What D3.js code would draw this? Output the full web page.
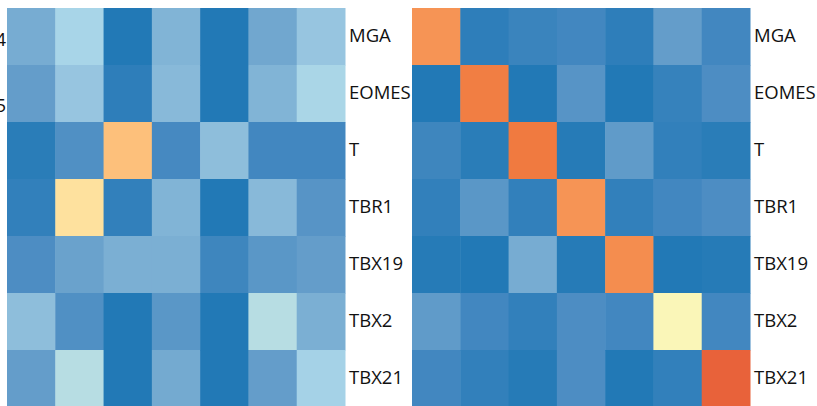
<!DOCTYPE html>
<html>
<head>
<meta charset="utf-8">
<script src="https://cdn.jsdelivr.net/npm/d3@7"></script>
<style>
  body { margin: 0; background: #fff; }
  text { font-family: "Open Sans", "Noto Sans", sans-serif; fill: #111; }
</style>
</head>
<body>
<div id="wrapper"></div>
<script>
// Data
const genes = ["MGA", "EOMES", "T", "TBR1", "TBX19", "TBX2", "TBX21"]
const leftValues = [
    [0.24, 0.40, 0.00, 0.27, 0.00, 0.22, 0.34],
    [0.18, 0.34, 0.03, 0.29, 0.00, 0.27, 0.41],
    [0.02, 0.12, 0.78, 0.09, 0.31, 0.08, 0.08],
    [0.04, 0.70, 0.04, 0.27, 0.00, 0.29, 0.14],
    [0.11, 0.20, 0.25, 0.25, 0.07, 0.15, 0.18],
    [0.31, 0.12, 0.00, 0.15, 0.00, 0.47, 0.25],
    [0.18, 0.47, 0.00, 0.23, 0.00, 0.18, 0.39],
]
const rightValues = [
    [0.88, 0.03, 0.06, 0.08, 0.03, 0.18, 0.08],
    [0.00, 0.94, 0.00, 0.14, 0.00, 0.05, 0.11],
    [0.07, 0.02, 0.95, 0.01, 0.17, 0.04, 0.02],
    [0.04, 0.15, 0.04, 0.88, 0.04, 0.08, 0.11],
    [0.01, 0.00, 0.24, 0.01, 0.90, 0.00, 0.01],
    [0.17, 0.08, 0.04, 0.11, 0.08, 0.60, 0.08],
    [0.08, 0.04, 0.01, 0.11, 0.00, 0.04, 1.00],
]
// clipped labels of a panel further left (cut off in the original too)
const clippedLabels = ["4", "5"]
const clippedY = [40, 106]

// Dimensions
const width = 817
const height = 406
const panelWidth = 338
const cellHeight = 57
const panels = [
    { x: 7, values: leftValues },
    { x: 412, values: rightValues },
]

const color = d3.scaleLinear()
    .domain([0, 0.1, 0.2, 0.3, 0.4, 0.5, 0.6, 0.7, 0.78, 0.88, 0.95, 1])
    .range(["#2279b6", "#4a8bc2", "#6aa2cc", "#8bbbda", "#a8d5e8", "#bde0e1",
             "#faf6b8", "#fee19e", "#fdc07b", "#f69455", "#f07a40", "#e8623a"])
    .clamp(true)

const svg = d3.select("#wrapper")
    .append("svg")
        .attr("width", width)
        .attr("height", height)

const x = d3.scaleBand()
    .domain(d3.range(genes.length))
    .range([0, panelWidth])

const y = d3.scaleBand()
    .domain(genes)
    .range([8, 8 + cellHeight * genes.length])

panels.forEach(p => {
    const g = svg.append("g")
        .attr("transform", `translate(${p.x},0)`)

    const cells = p.values.flatMap((row, i) =>
        row.map((v, j) => ({ row: genes[i], col: j, value: v })))

    g.selectAll("rect")
        .data(cells)
        .join("rect")
            .attr("x", d => x(d.col))
            .attr("y", d => y(d.row))
            .attr("width", x.bandwidth() + 0.5)
            .attr("height", y.bandwidth() + 0.5)
            .attr("fill", d => color(d.value))

    // row labels on the right
    g.append("g")
        .attr("transform", `translate(${panelWidth},0)`)
        .call(d3.axisRight(y).tickSize(0).tickPadding(4))
        .call(a => a.select(".domain").remove())
        .selectAll("text")
            .attr("font-size", 18.5)
            .attr("font-family", "Open Sans, sans-serif")
            .attr("fill", "#111")
})

svg.selectAll(".clipped")
    .data(clippedLabels)
    .join("text")
        .attr("class", "clipped")
        .attr("x", 6)
        .attr("y", (d, i) => clippedY[i])
        .attr("dy", "0.35em")
        .attr("text-anchor", "end")
        .attr("font-size", 18.5)
        .text(d => d)
</script>
</body>
</html>
